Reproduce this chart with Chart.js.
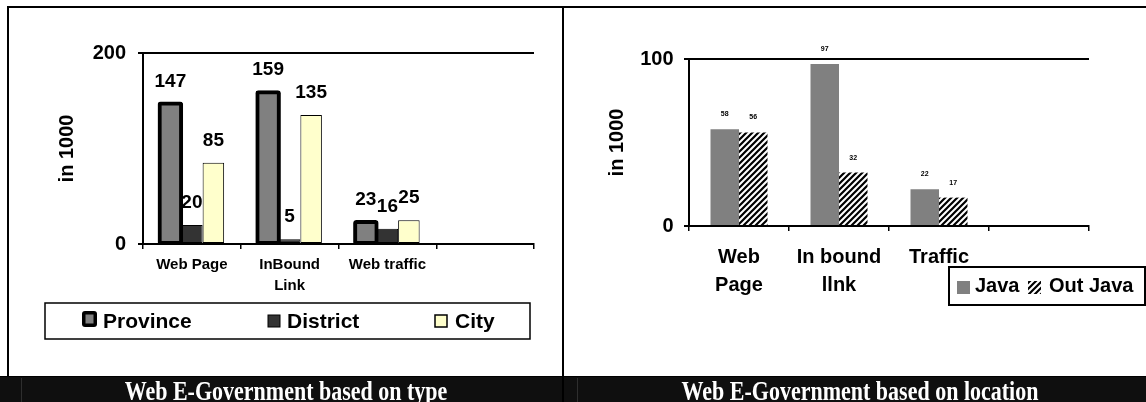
<!DOCTYPE html>
<html>
<head>
<meta charset="utf-8">
<title>Web E-Government</title>
<script src="https://cdn.jsdelivr.net/npm/chart.js@4.4.1/dist/chart.umd.min.js"></script>
<style>
  html, body { margin: 0; padding: 0; background: #fff; }
  #page { position: relative; width: 1146px; height: 402px; overflow: hidden; background: #fff; }
  canvas { position: absolute; top: 0; }
  #typeChart { left: 0; }
  #locationChart { left: 573px; }
  .rule { position: absolute; background: #000; }
  #band { position: absolute; left: 0; top: 376px; width: 1146px; height: 26px; background: #0f0f0f; border-top: 1px solid #000; box-sizing: border-box; }
  .seam { position: absolute; top: 378px; width: 1px; height: 24px; background: #2e2e2e; }
  .cap {
    position: absolute; top: 378px; height: 24px; line-height: 24px;
    font: bold 22px "Liberation Serif", "Times New Roman", serif; color: #fff;
    white-space: nowrap; transform: translateX(-50%) scaleY(1.2); transform-origin: 50% 50%;
  }
</style>
</head>
<body>
<div id="page">
  <canvas id="typeChart" width="560" height="376"></canvas>
  <canvas id="locationChart" width="573" height="376"></canvas>

  <div id="band"></div>
  <div class="seam" style="left:21px"></div>
  <div class="seam" style="left:577px"></div>
  <div class="cap" style="left:286px">Web E-Government based on type</div>
  <div class="cap" style="left:860px">Web E-Government based on location</div>

  <div class="rule" style="left:7px; top:6px; width:1139px; height:2px"></div>
  <div class="rule" style="left:7px; top:6px; width:2px; height:371px"></div>
  <div class="rule" style="left:562px; top:6px; width:2px; height:396px"></div>
</div>

<script>
// ---- data: web sites by type of government ----
const typeCategories = [['Web Page'], ['InBound', 'Link'], ['Web traffic'], ''];
const provinceValues = [147, 159, 23, null];
const districtValues = [20, 5, 16, null];
const cityValues = [85, 135, 25, null];
const typeTicks = [0, 200];

// ---- data: web sites by location ----
const locationCategories = [['Web', 'Page'], ['In bound', 'llnk'], ['Traffic'], ''];
const javaValues = [58, 97, 22, null];
const outJavaValues = [56, 32, 17, null];
const locationTicks = [0, 100];

const FONT = '"Liberation Sans", Arial, Helvetica, sans-serif';
Chart.defaults.font.family = FONT;
Chart.defaults.color = '#000';

// diagonal black/white hatch used for the "Out Java" series
function hatchPattern() {
  const c = document.createElement('canvas');
  c.width = 6; c.height = 6;
  const g = c.getContext('2d');
  g.fillStyle = '#fff';
  g.fillRect(0, 0, 6, 6);
  g.strokeStyle = '#000';
  g.lineWidth = 2.2;
  g.beginPath();
  g.moveTo(-1, 7); g.lineTo(7, -1);
  g.moveTo(-1, 1); g.lineTo(1, -1);
  g.moveTo(5, 7); g.lineTo(7, 5);
  g.stroke();
  return g.createPattern(c, 'repeat');
}

// value printed above each bar
const valueLabels = {
  id: 'valueLabels',
  afterDatasetsDraw(chart, args, opts) {
    const ctx = chart.ctx;
    ctx.save();
    ctx.font = 'bold ' + opts.size + 'px ' + FONT;
    ctx.fillStyle = '#000';
    ctx.textAlign = 'center';
    ctx.textBaseline = 'alphabetic';
    chart.data.datasets.forEach((ds, i) => {
      chart.getDatasetMeta(i).data.forEach((bar, j) => {
        const v = ds.data[j];
        if (v === null || v === undefined) return;
        ctx.fillText(String(v), bar.x, bar.y - opts.lift);
      });
    });
    ctx.restore();
  }
};

// framed legend row under the plot
const boxedLegend = {
  id: 'boxedLegend',
  afterDraw(chart, args, o) {
    const ctx = chart.ctx;
    ctx.save();
    ctx.fillStyle = '#fff';
    ctx.fillRect(o.box[0], o.box[1], o.box[2], o.box[3]);
    ctx.lineWidth = o.lineWidth;
    ctx.strokeStyle = '#000';
    ctx.strokeRect(o.box[0], o.box[1], o.box[2], o.box[3]);
    ctx.font = 'bold ' + o.size + 'px ' + FONT;
    ctx.textAlign = 'left';
    ctx.textBaseline = 'alphabetic';
    chart.data.datasets.forEach((ds, i) => {
      const it = o.items[i];
      if (it.ring) {
        ctx.fillStyle = '#000';
        ctx.beginPath();
        ctx.roundRect(it.x, it.y, it.w, it.h, it.radius);
        ctx.fill();
        ctx.fillStyle = ds.backgroundColor;
        ctx.fillRect(it.x + it.ring, it.y + it.ring, it.w - 2 * it.ring, it.h - 2 * it.ring);
      } else {
        ctx.fillStyle = ds.backgroundColor;
        ctx.fillRect(it.x, it.y, it.w, it.h);
        if (it.border) {
          ctx.lineWidth = it.border;
          ctx.strokeStyle = '#000';
          ctx.strokeRect(it.x, it.y, it.w, it.h);
        }
      }
      ctx.fillStyle = '#000';
      ctx.fillText(ds.label, it.textX, o.baseline);
    });
    ctx.restore();
  }
};

// ---- chart 1: by type ----
new Chart(document.getElementById('typeChart'), {
  type: 'bar',
  data: {
    labels: typeCategories,
    datasets: [
      { label: 'Province', data: provinceValues, backgroundColor: '#808080', borderColor: '#000',
        borderWidth: 4, borderRadius: 3, borderSkipped: false, inflateAmount: 2 },
      { label: 'District', data: districtValues, backgroundColor: '#333333', borderColor: '#000',
        borderWidth: 1, borderSkipped: false },
      { label: 'City', data: cityValues, backgroundColor: '#ffffcc', borderColor: '#000',
        borderWidth: 1, borderSkipped: false }
    ]
  },
  options: {
    responsive: false,
    animation: false,
    events: [],
    layout: { padding: { left: 0, top: 53, right: 26, bottom: 72 } },
    datasets: { bar: { categoryPercentage: 0.66, barPercentage: 1 } },
    plugins: {
      legend: { display: false },
      tooltip: { enabled: false },
      valueLabels: { size: 19, lift: 17 },
      boxedLegend: {
        box: [45, 303, 485, 36], lineWidth: 1.5, size: 21, baseline: 328,
        items: [
          { x: 82, y: 311, w: 15, h: 16, ring: 3.5, radius: 3, textX: 103 },
          { x: 268, y: 315, w: 12, h: 12, border: 1, textX: 287 },
          { x: 435, y: 315, w: 12, h: 12, border: 1.5, textX: 455 }
        ]
      }
    },
    scales: {
      x: {
        grid: { drawOnChartArea: false, drawTicks: true, tickLength: 5, color: '#000', lineWidth: 1.5 },
        border: { display: true, color: '#000', width: 2 },
        ticks: { color: '#000', font: { size: 15, weight: 'bold', lineHeight: 1.35 }, padding: 6,
                 maxRotation: 0, autoSkip: false },
        afterFit: s => { s.height = 60; }
      },
      y: {
        min: 0, max: 200,
        afterBuildTicks: s => { s.ticks = typeTicks.map(v => ({ value: v })); },
        grid: { color: '#000', lineWidth: 2, drawTicks: true, tickLength: 5 },
        border: { display: true, color: '#000', width: 2 },
        ticks: { color: '#000', font: { size: 20, weight: 'bold' }, padding: 12 },
        title: { display: true, text: 'in 1000', color: '#000', font: { size: 20, weight: 'bold' },
                 padding: { top: 55, bottom: 0 } },
        afterFit: s => { s.width = 143; }
      }
    }
  },
  plugins: [valueLabels, boxedLegend]
});

// ---- chart 2: by location ----
new Chart(document.getElementById('locationChart'), {
  type: 'bar',
  data: {
    labels: locationCategories,
    datasets: [
      { label: 'Java', data: javaValues, backgroundColor: '#808080', borderWidth: 0 },
      { label: 'Out Java', data: outJavaValues, backgroundColor: hatchPattern(), borderWidth: 0 }
    ]
  },
  options: {
    responsive: false,
    animation: false,
    events: [],
    layout: { padding: { left: 0, top: 59, right: 57, bottom: 70 } },
    datasets: { bar: { categoryPercentage: 0.57, barPercentage: 1 } },
    plugins: {
      legend: { display: false },
      tooltip: { enabled: false },
      valueLabels: { size: 7, lift: 13 },
      boxedLegend: {
        box: [376, 267, 196, 38], lineWidth: 2, size: 20, baseline: 292,
        items: [
          { x: 384, y: 281, w: 13, h: 13, textX: 402 },
          { x: 455, y: 281, w: 13, h: 13, textX: 476 }
        ]
      }
    },
    scales: {
      x: {
        grid: { drawOnChartArea: false, drawTicks: true, tickLength: 5, color: '#000', lineWidth: 1.5 },
        border: { display: true, color: '#000', width: 2 },
        ticks: { color: '#000', font: { size: 20, weight: 'bold', lineHeight: 1.4 }, padding: 12,
                 maxRotation: 0, autoSkip: false },
        afterFit: s => { s.height = 80; }
      },
      y: {
        min: 0, max: 100,
        afterBuildTicks: s => { s.ticks = locationTicks.map(v => ({ value: v })); },
        grid: { color: '#000', lineWidth: 2, drawTicks: true, tickLength: 5 },
        border: { display: true, color: '#000', width: 2 },
        ticks: { color: '#000', font: { size: 20, weight: 'bold' }, padding: 10.5 },
        title: { display: true, text: 'in 1000', color: '#000', font: { size: 20, weight: 'bold' },
                 padding: { top: 32, bottom: 0 } },
        afterFit: s => { s.width = 116; }
      }
    }
  },
  plugins: [valueLabels, boxedLegend]
});
</script>
</body>
</html>
